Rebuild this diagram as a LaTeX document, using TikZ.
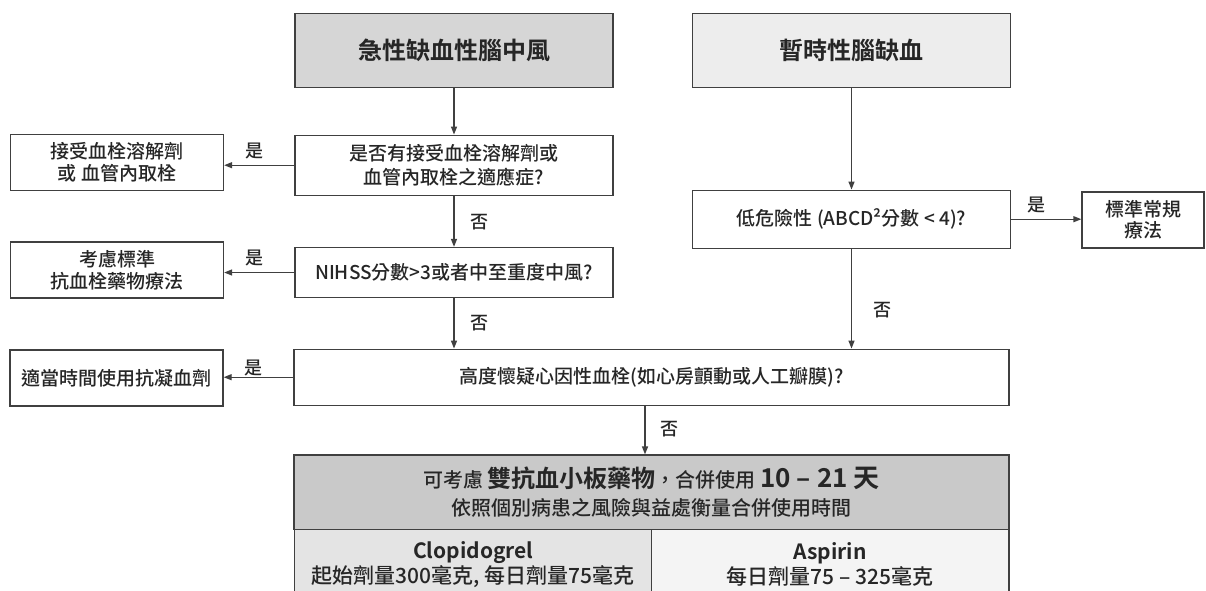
\documentclass[tikz,border=0pt]{standalone}
\usepackage{fontspec}
\setmainfont{Noto Sans CJK TC Medium}[BoldFont={Noto Sans CJK TC Bold}]
\usepackage{xcolor}
\usepackage{tikz}
\usetikzlibrary{positioning,arrows.meta}
\definecolor{linegray}{HTML}{404040}
\definecolor{textgray}{HTML}{262626}
\definecolor{darkfill}{HTML}{D6D6D6}
\definecolor{lightfill}{HTML}{EDEDED}
\definecolor{headfill}{HTML}{C9C9C9}
\definecolor{cellfill}{HTML}{E4E4E4}
\definecolor{palefill}{HTML}{F4F4F4}

\begin{document}
\begin{tikzpicture}[x=1pt,y=-1pt,
  box/.style={draw=linegray,line width=1.3pt,fill=white,align=center,inner sep=0pt,text=textgray,font=\fontsize{19}{24}\selectfont},
  titlebox/.style={box,font=\fontsize{24}{28}\bfseries\selectfont,minimum width=318pt,minimum height=74pt},
  qbox/.style={box,minimum width=318pt},
  sidebox/.style={box,minimum width=213pt,minimum height=56pt,font=\fontsize{19}{22}\selectfont},
  cell/.style={box,minimum width=357.5pt,minimum height=70pt,font=\fontsize{21}{25}\selectfont},
  lbl/.style={inner sep=0pt,text=textgray,font=\fontsize{18}{18}\selectfont},
  arr/.style={-{Triangle[length=8pt,width=6pt]},line width=1.3pt,draw=linegray}
]
  \fill[white] (0,0) rectangle (1206,590);
  \clip (0,0) rectangle (1206,590);
  % two entry points
  \node[titlebox,fill=darkfill] (acute) at (454,50.5) {急性缺血性腦中風};
  \node[titlebox,fill=lightfill] (tia) at (851.5,50.5) {暫時性腦缺血};
  % left column of questions
  \node[qbox,minimum height=60pt] (q1) at (454,165.2) {是否有接受血栓溶解劑或\\血管內取栓之適應症?};
  \node[qbox,minimum height=50pt] (q2) at (454,272.5) {NIHSS分數>3或者中至重度中風?};
  \node[qbox,minimum width=318pt,minimum height=58pt] (q4) at (851.5,219.2) {低危險性 (ABCD²分數 < 4)?};
  \node[box,minimum width=715pt,minimum height=56pt] (q3) at (651.5,377.2) {高度懷疑心因性血栓(如心房顫動或人工瓣膜)?};
  % outcomes
  \node[sidebox] (lyse) at (117,162.5) {接受血栓溶解劑\\或 血管內取栓};
  \node[sidebox] (anti) at (117,270) {考慮標準\\抗血栓藥物療法};
  \node[sidebox] (coag) at (116.5,378) {適當時間使用抗凝血劑};
  \node[box,minimum width=122pt,minimum height=56pt,font=\fontsize{19}{21}\selectfont] (std) at (1143,220) {標準常規\\療法};
  % treatment table
  \node[box,fill=headfill,minimum width=715pt,minimum height=74.3pt,font=\fontsize{20}{28}\selectfont] (dapt) at (651.5,492.2)
    {可考慮 {\bfseries\fontsize{24}{28}\selectfont 雙抗血小板藥物}，合併使用 {\bfseries\fontsize{26}{28}\selectfont 10 – 21 天}\\依照個別病患之風險與益處衡量合併使用時間};
  \node[cell,fill=cellfill] (clop) at (473.25,564.3) {\textbf{Clopidogrel}\\起始劑量300毫克, 每日劑量75毫克};
  \node[cell,fill=palefill] (asp) at (830.25,564.3) {\textbf{Aspirin}\\每日劑量75 – 325毫克};
  % connectors
  \draw[arr] (acute) -- (q1);
  \draw[arr] (q1) -- (q2);
  \draw[arr] (q2.south) -- (q2.south |- q3.north);
  \draw[arr] (tia) -- (q4);
  \draw[arr] (q4.south) -- (q4.south |- q3.north);
  \draw[arr] (q4.east) -- (q4.east -| std.west);
  \draw[arr] (q1.west) -- (q1.west -| lyse.east);
  \draw[arr] (q2.west) -- (q2.west -| anti.east);
  \draw[arr] (q3.west) -- (q3.west -| coag.east);
  \draw[arr] ([xshift=-6.5pt]q3.south) -- ([xshift=-6.5pt]dapt.north);
  % labels
  \node[lbl] (yes1) at (254.5,151) {是};
  \node[lbl] (yes2) at (254.5,258.3) {是};
  \node[lbl] (yes3) at (253,367.7) {是};
  \node[lbl] (yes4) at (1036.8,205) {是};
  \node[lbl] (no1) at (479,221.7) {否};
  \node[lbl] (no2) at (479,323.3) {否};
  \node[lbl] (no3) at (882,310) {否};
  \node[lbl] (no4) at (669.6,429.3) {否};
\end{tikzpicture}
\end{document}
